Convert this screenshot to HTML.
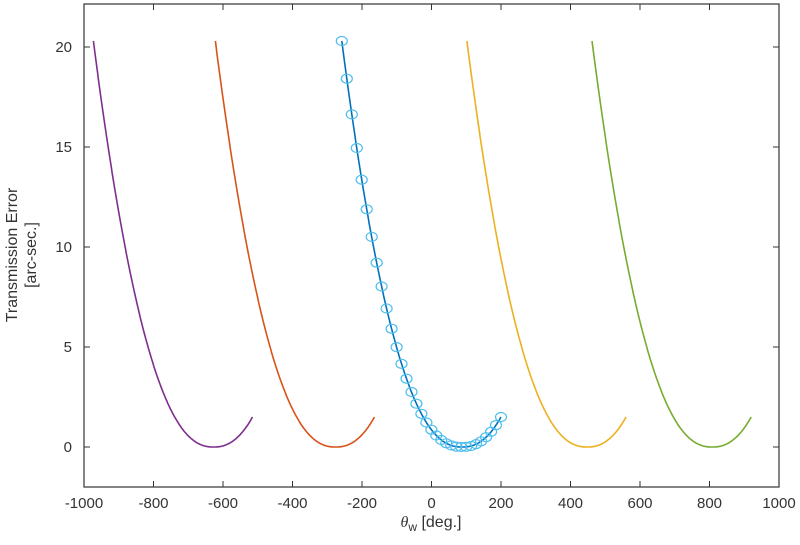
<!DOCTYPE html>
<html><head><meta charset="utf-8"><style>body{margin:0;background:#fff}svg{display:block}text{font-family:"Liberation Sans",sans-serif;fill:#333}</style></head>
<body><svg id="s" width="800" height="545" xmlns="http://www.w3.org/2000/svg"></svg>
<script>
const s=document.getElementById('s');
const L=84,R=779,T=4,B=487;
const X=v=>L+(v+1000)*(R-L)/2000, Y=v=>447-v*20;
let h='<rect x="'+L+'" y="'+T+'" width="'+(R-L)+'" height="'+(B-T)+'" fill="none" stroke="#333" stroke-width="1.2"/>';
for(let v=-1000;v<=1000;v+=200){const x=X(v);h+=`<line x1="${x}" x2="${x}" y1="${B}" y2="${B-6}" stroke="#333"/><line x1="${x}" x2="${x}" y1="${T}" y2="${T+6}" stroke="#333"/><text x="${x}" y="${B+21}" font-size="15" text-anchor="middle">${v}</text>`;}
for(let v=0;v<=20;v+=5){const y=Y(v);h+=`<line x1="${L}" x2="${L+6}" y1="${y}" y2="${y}" stroke="#333"/><line x1="${R}" x2="${R-6}" y1="${y}" y2="${y}" stroke="#333"/><text x="${L-12}" y="${y+5}" font-size="15" text-anchor="end">${v}</text>`;}
const a=20.3/Math.pow(346,2.31);
const f=d=>a*Math.pow(Math.abs(d),2.31);
function curve(off,col){let p=[];for(let x=-258;x<=200;x+=2){p.push(X(x+off).toFixed(1)+','+Y(f(x-88)).toFixed(1));}return `<polyline points="${p.join(' ')}" fill="none" stroke="${col}" stroke-width="1.6"/>`;}
h+=curve(-715,'#7E2F8E')+curve(-364,'#D95319')+curve(360,'#EDB120')+curve(720,'#77AC30')+curve(0,'#0072BD');
for(let i=0;i<=32;i++){const x=-258+i*458/32;h+=`<ellipse cx="${X(x).toFixed(1)}" cy="${Y(f(x-88)).toFixed(1)}" rx="5.5" ry="4.5" fill="none" stroke="#4DBEEE" stroke-width="1.2"/>`;}
h+=`<text transform="translate(17,255) rotate(-90)" font-size="16" text-anchor="middle">Transmission Error</text><text transform="translate(36,255) rotate(-90)" font-size="16" text-anchor="middle">[arc-sec.]</text>`;
h+=`<text x="431" y="527" font-size="16" text-anchor="middle"><tspan font-family="Liberation Serif" font-style="italic">θ</tspan><tspan font-size="12" dy="4">w</tspan><tspan dy="-4"> [deg.]</tspan></text>`;
s.innerHTML=h;
</script></body></html>
